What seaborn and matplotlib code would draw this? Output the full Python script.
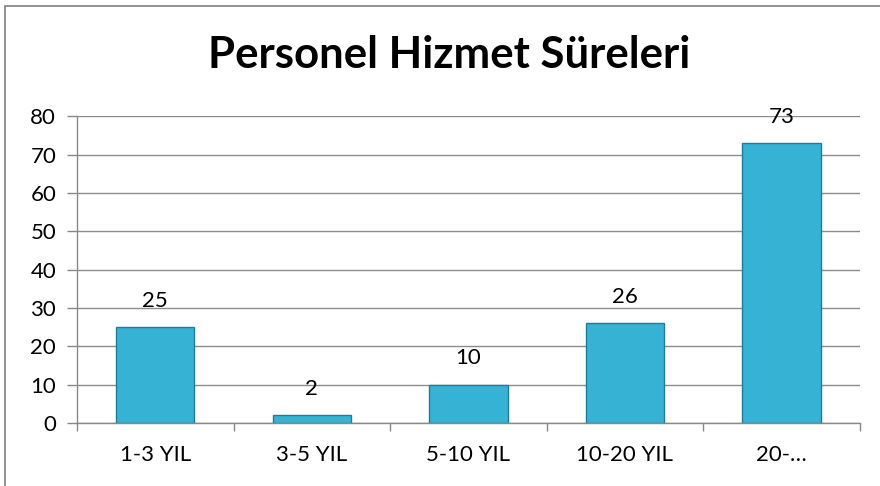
import matplotlib
matplotlib.use("Agg")
import matplotlib.pyplot as plt
import numpy as np
import pandas as pd
import seaborn as sns
from matplotlib.patches import Rectangle

# data
categories = ["1-3 YIL", "3-5 YIL", "5-10 YIL", "10-20 YIL", "20-…"]
values = [25, 2, 10, 26, 73]
yticks = [0, 10, 20, 30, 40, 50, 60, 70, 80]

df = pd.DataFrame({"kategori": categories, "personel": values})

sns.set_style("white")
plt.rcParams["font.family"] = ["Lato", "DejaVu Sans"]
plt.rcParams["text.color"] = "black"

fig = plt.figure(figsize=(8.8, 4.86), dpi=100)
ax = fig.add_axes([0.0875, 0.1296, 0.8895, 0.6314])

sns.barplot(data=df, x="kategori", y="personel", color="#36B3D4",
            width=0.5, edgecolor="#1E7C96", linewidth=1.0, saturation=1, ax=ax)

for i, v in enumerate(values):
    ax.text(i, v + 4.3, str(v), ha="center", va="bottom", fontsize=16, color="black")

ax.set_ylim(0, 80)
ax.set_xlim(-0.5, len(categories) - 0.5)
ax.set_yticks(yticks)
ax.set_yticklabels([str(t) for t in yticks], fontsize=16)
ax.set_xticklabels(categories, fontsize=16)
ax.tick_params(axis="y", length=7, color="#888888", width=1, pad=8, left=True,
               labelcolor="black")
ax.tick_params(axis="x", which="major", length=0, pad=16, labelcolor="black")
ax.set_xticks(np.arange(-0.5, len(categories)), minor=True)
ax.tick_params(axis="x", which="minor", length=6, color="#888888", width=1, bottom=True)
ax.yaxis.grid(True, color="#8C8C8C", linewidth=1)
ax.set_axisbelow(True)
ax.set_xlabel("")
ax.set_ylabel("")
for s in ["top", "right"]:
    ax.spines[s].set_visible(False)
for s in ["left", "bottom"]:
    ax.spines[s].set_color("#888888")
    ax.spines[s].set_linewidth(1)

fig.text(0.51, 0.886, "Personel Hizmet Süreleri", ha="center", va="center",
         fontsize=31.5, fontweight="bold", color="black")

# outer chart frame
fig.patches.append(Rectangle((5 / 880, -0.1), 1.2, 1 - 6 / 486 + 0.1, transform=fig.transFigure,
                             fill=False, edgecolor="#7F7F7F", linewidth=1.2))

fig.savefig("out.png", dpi=100)
